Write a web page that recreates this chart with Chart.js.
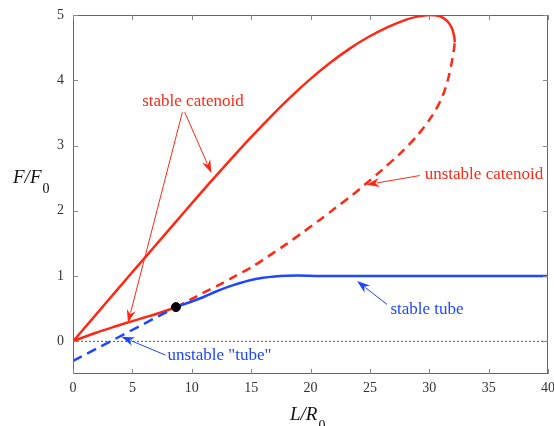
<!DOCTYPE html>
<html>
<head>
<meta charset="utf-8">
<script src="https://cdn.jsdelivr.net/npm/chart.js@4.4.1/dist/chart.umd.min.js"></script>
<style>
  html, body { margin: 0; padding: 0; background: #fff; }
  canvas { display: block; }
</style>
</head>
<body>
<canvas id="chart" width="554" height="426"></canvas>
<script>
// ---- data ----
const xTicks = [0, 5, 10, 15, 20, 25, 30, 35, 40];
const yTicks = [0, 1, 2, 3, 4, 5];

// stable catenoid, lower branch (origin -> bifurcation point)
const catLowX = [0, 1, 2, 3, 4, 5, 6, 7, 8, 8.67];
const catLowY = [0, 0.07, 0.135, 0.195, 0.255, 0.31, 0.365, 0.42, 0.48, 0.525];

// unstable catenoid (bifurcation point -> turning point)
const catUnstX = [8.67, 10, 11, 12.35, 13.5, 15.16, 16.5, 17.97, 19.5, 20.77, 22, 23.58, 24.56, 25.98, 27.56, 28.98, 30.22, 30.93, 31.33, 31.63, 31.86, 32.06, 32.15];
const catUnstY = [0.525, 0.65, 0.745, 0.87, 0.985, 1.15, 1.31, 1.49, 1.69, 1.86, 2.03, 2.25, 2.4, 2.62, 2.88, 3.15, 3.45, 3.68, 3.86, 4.05, 4.24, 4.45, 4.58];

// stable catenoid, upper branch (turning point -> origin)
const catUpX = [32.15, 32.1, 31.9, 31.5, 30.9, 30.0, 29.0, 28.07, 26.5, 24.8, 23.3, 21.6, 19.93, 18.25, 16.56, 14.8, 13.0, 11.3, 9.55, 7.8, 6.04, 4.5, 3, 1.5, 0];
const catUpY = [4.58, 4.67, 4.8, 4.91, 4.98, 5.0, 4.975, 4.93, 4.815, 4.655, 4.485, 4.26, 4.01, 3.73, 3.425, 3.09, 2.73, 2.385, 2.02, 1.65, 1.28, 0.955, 0.637, 0.318, 0];

// stable tube
const tubeX = [8.67, 10, 11, 12, 13, 14, 15, 16, 17, 18, 19, 20.5, 40];
const tubeY = [0.525, 0.61, 0.68, 0.76, 0.83, 0.89, 0.94, 0.975, 0.995, 1.005, 1.008, 1.003, 1.0];

// unstable "tube"
const tubeUnstX = [0, 8.67];
const tubeUnstY = [-0.3, 0.525];

// zero reference line and bifurcation point
const zeroX = [0, 40];
const zeroY = [0, 0];
const pointX = [8.67];
const pointY = [0.525];

const RED = 'rgb(255,40,20)';
const BLUE = 'rgb(30,70,255)';
const SERIF = '"Liberation Serif", "DejaVu Serif", serif';

const toXY = (xs, ys) => xs.map((x, i) => ({ x, y: ys[i] }));

// annotation labels and arrows, in data units
const notes = [
  { text: 'stable catenoid', x: 10.1, y: 3.68, align: 'center', color: RED },
  { text: 'unstable catenoid', x: 29.62, y: 2.56, align: 'left', color: RED },
  { text: 'stable tube', x: 26.73, y: 0.49, align: 'left', color: BLUE },
  { text: 'unstable "tube"', x: 7.95, y: -0.21, align: 'left', color: BLUE }
];
const arrows = [
  { from: [9.41, 3.51], to: [11.65, 2.58], color: RED },
  { from: [9.21, 3.51], to: [4.63, 0.286], color: RED },
  { from: [29.2, 2.54], to: [24.71, 2.40], color: RED },
  { from: [26.44, 0.567], to: [23.92, 0.923], color: BLUE },
  { from: [7.78, -0.21], to: [4.08, 0.072], color: BLUE }
];

// frame with inward ticks on all four sides, labels and arrows
const decorations = {
    id: 'decorations',
    afterDraw(chart) {
        const { ctx, chartArea: a, scales: { x, y } } = chart;
        ctx.save();

        // frame
        ctx.strokeStyle = '#666';
        ctx.lineWidth = 1;
        ctx.strokeRect(a.left + 0.5, a.top + 0.5, a.right - a.left - 1, a.bottom - a.top - 1);

        // inward ticks
        const len = 5;
        ctx.strokeStyle = '#888';
        ctx.beginPath();
        xTicks.forEach(v => {
            const px = Math.round(x.getPixelForValue(v)) + 0.5;
            ctx.moveTo(px, a.bottom); ctx.lineTo(px, a.bottom - len);
            ctx.moveTo(px, a.top); ctx.lineTo(px, a.top + len);
        });
        yTicks.forEach(v => {
            const py = Math.round(y.getPixelForValue(v)) + 0.5;
            ctx.moveTo(a.left, py); ctx.lineTo(a.left + len, py);
            ctx.moveTo(a.right, py); ctx.lineTo(a.right - len, py);
        });
        ctx.stroke();

        // arrows
        arrows.forEach(ar => {
            const x0 = x.getPixelForValue(ar.from[0]), y0 = y.getPixelForValue(ar.from[1]);
            const x1 = x.getPixelForValue(ar.to[0]), y1 = y.getPixelForValue(ar.to[1]);
            const ang = Math.atan2(y1 - y0, x1 - x0);
            const c = Math.cos(ang), s = Math.sin(ang);
            const hl = 13, hw = 4.5;
            ctx.strokeStyle = ar.color;
            ctx.fillStyle = ar.color;
            ctx.lineWidth = 1;
            ctx.beginPath();
            ctx.moveTo(x0, y0);
            ctx.lineTo(x1 - c * hl * 0.8, y1 - s * hl * 0.8);
            ctx.stroke();
            ctx.beginPath();
            ctx.moveTo(x1, y1);
            ctx.lineTo(x1 - c * hl - s * hw, y1 - s * hl + c * hw);
            ctx.lineTo(x1 - c * hl * 0.7, y1 - s * hl * 0.7);
            ctx.lineTo(x1 - c * hl + s * hw, y1 - s * hl - c * hw);
            ctx.closePath();
            ctx.fill();
        });

        // annotation texts
        ctx.font = '17px ' + SERIF;
        ctx.textBaseline = 'middle';
        notes.forEach(n => {
            ctx.fillStyle = n.color;
            ctx.textAlign = n.align;
            ctx.fillText(n.text, x.getPixelForValue(n.x), y.getPixelForValue(n.y));
        });

        // axis titles with subscripts
        ctx.fillStyle = '#111';
        ctx.textAlign = 'left';
        ctx.textBaseline = 'alphabetic';
        const title = (main, sub, left, base) => {
            ctx.font = 'italic 19px ' + SERIF;
            ctx.fillText(main, left, base);
            const w = ctx.measureText(main).width;
            ctx.font = '14px ' + SERIF;
            ctx.fillText(sub, left + w + 1, base + 10);
        };
        title('F/F', '0', 13, 183);
        title('L/R', '0', 290, 420);

        ctx.restore();
    }
};

const lineSet = (data, color, dash, order) => ({
    data,
    showLine: true,
    borderColor: color,
    borderWidth: 2.5,
    borderDash: dash,
    pointRadius: 0,
    tension: 0.3,
    fill: false,
    order
});

new Chart(document.getElementById('chart'), {
    type: 'scatter',
    data: {
        datasets: [
            {
                data: toXY(pointX, pointY),
                pointRadius: 4.5,
                pointBackgroundColor: '#000',
                pointBorderColor: '#000',
                order: 0
            },
            lineSet(toXY(tubeX, tubeY), BLUE, [], 1),
            lineSet(toXY(tubeUnstX, tubeUnstY), BLUE, [10, 6], 1),
            lineSet(toXY(catLowX, catLowY), RED, [], 2),
            lineSet(toXY(catUnstX, catUnstY), RED, [9, 6], 2),
            lineSet(toXY(catUpX, catUpY), RED, [], 2),
            {
                data: toXY(zeroX, zeroY),
                showLine: true,
                borderColor: '#555',
                borderWidth: 1,
                borderDash: [2, 2],
                pointRadius: 0,
                order: 3
            }
        ]
    },
    options: {
        responsive: false,
        devicePixelRatio: 1,
        animation: false,
        layout: { padding: { top: 15, right: 6, left: 0, bottom: 0 } },
        plugins: { legend: { display: false }, tooltip: { enabled: false } },
        scales: {
            x: {
                type: 'linear',
                min: 0,
                max: 40,
                afterBuildTicks: s => { s.ticks = xTicks.map(v => ({ value: v })); },
                afterFit: s => { s.height = 52; s.paddingLeft = 0; s.paddingRight = 0; },
                grid: { display: false, drawTicks: false },
                border: { display: false },
                ticks: { padding: 6, color: '#333', font: { family: SERIF, size: 14 }, maxRotation: 0 }
            },
            y: {
                type: 'linear',
                min: -0.5,
                max: 5,
                afterBuildTicks: s => { s.ticks = yTicks.map(v => ({ value: v })); },
                afterFit: s => { s.width = 73; s.paddingTop = 0; s.paddingBottom = 0; },
                grid: { display: false, drawTicks: false },
                border: { display: false },
                ticks: { padding: 9, color: '#333', font: { family: SERIF, size: 14 } }
            }
        }
    },
    plugins: [decorations]
});
</script>
</body>
</html>
